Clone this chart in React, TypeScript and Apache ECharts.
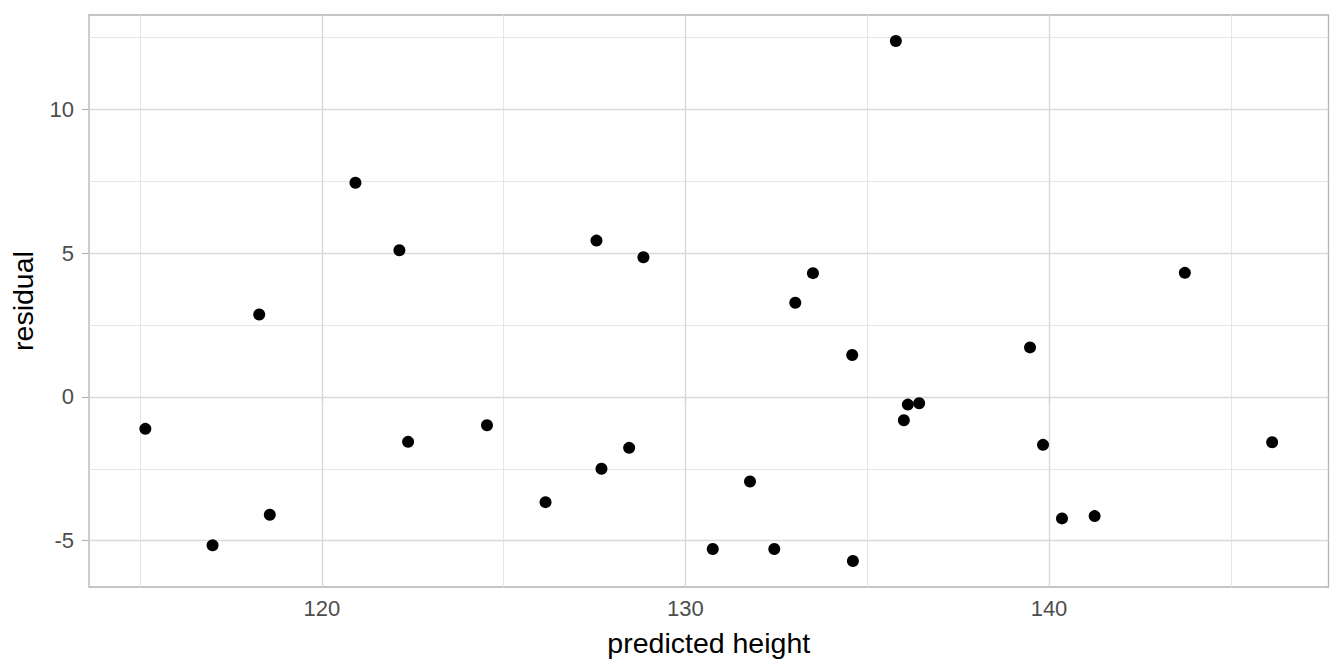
import React, { useEffect, useRef } from "react";
import * as echarts from "echarts";

const predicted: number[] = [
  115.148, 116.997, 118.28, 118.571, 120.926, 122.135, 122.374, 124.544,
  126.154, 127.555, 127.692, 128.453, 128.846, 130.753, 131.777, 132.445,
  133.022, 133.508, 134.588, 134.607, 135.788, 136.008, 136.118, 136.429,
  139.478, 139.835, 140.357, 141.255, 143.736, 146.137,
];
const residual: number[] = [
  -1.111, -5.163, 2.868, -4.097, 7.451, 5.104, -1.5625, -0.986,
  -3.66, 5.4375, -2.5, -1.771, 4.861, -5.292, -2.941, -5.292,
  3.274, 4.306, 1.458, -5.708, 12.382, -0.8125, -0.267, -0.222,
  1.722, -1.667, -4.226, -4.146, 4.316, -1.576,
];

const xTicks: number[] = [120, 130, 140];
const xMinor: number[] = [115, 125, 135, 145];
const yTicks: number[] = [-5, 0, 5, 10];
const yMinor: number[] = [-2.5, 2.5, 7.5, 12.5];

const xTitle = "predicted height";
const yTitle = "residual";

export default function App() {
  const ref = useRef<HTMLDivElement>(null);
  useEffect(() => {
    if (!ref.current) return;
    const chart = echarts.init(ref.current, null, { renderer: "svg" });
    const xMin = Math.min(...predicted);
    const xMax = Math.max(...predicted);
    const yMin = Math.min(...residual);
    const yMax = Math.max(...residual);
    const xPad = (xMax - xMin) * 0.05;
    const yPad = (yMax - yMin) * 0.05;
    const font = "'Liberation Sans', Arial, Helvetica, sans-serif";
    const major = { color: "#d9d9d9", width: 1.4, type: "solid" };
    const minor = { color: "#e3e3e3", width: 0.9, type: "solid" };
    const lines = [
      ...xMinor.map((v) => ({ xAxis: v, lineStyle: minor })),
      ...yMinor.map((v) => ({ yAxis: v, lineStyle: minor })),
      ...xTicks.map((v) => ({ xAxis: v, lineStyle: major })),
      ...yTicks.map((v) => ({ yAxis: v, lineStyle: major })),
    ];
    chart.setOption({
      animation: false,
      backgroundColor: "#ffffff",
      textStyle: { fontFamily: font },
      grid: {
        left: 89,
        right: 15.5,
        top: 15,
        bottom: 85,
        show: true,
        borderColor: "#b3b3b3",
        borderWidth: 1.3,
        backgroundColor: "#ffffff",
      },
      xAxis: {
        type: "value",
        min: xMin - xPad,
        max: xMax + xPad,
        axisLine: { show: false },
        axisTick: {
          show: true,
          length: 7,
          customValues: xTicks,
          lineStyle: { color: "#b3b3b3", width: 1.2 },
        },
        axisLabel: {
          customValues: xTicks,
          fontSize: 22,
          color: "#4d4d4d",
          margin: 10,
          fontFamily: font,
        },
        splitLine: { show: false },
        name: xTitle,
        nameLocation: "middle",
        nameGap: 41,
        nameTextStyle: { fontSize: 28.5, color: "#000000", fontFamily: font },
      },
      yAxis: {
        type: "value",
        min: yMin - yPad,
        max: yMax + yPad,
        axisLine: { show: false },
        axisTick: {
          show: true,
          length: 7,
          customValues: yTicks,
          lineStyle: { color: "#b3b3b3", width: 1.2 },
        },
        axisLabel: {
          customValues: yTicks,
          fontSize: 22,
          color: "#4d4d4d",
          margin: 15,
          fontFamily: font,
        },
        splitLine: { show: false },
        name: yTitle,
        nameLocation: "middle",
        nameGap: 52,
        nameRotate: 90,
        nameTextStyle: { fontSize: 28.5, color: "#000000", fontFamily: font },
      },
      series: [
        {
          type: "line",
          data: [],
          silent: true,
          z: 1,
          markLine: {
            silent: true,
            symbol: ["none", "none"],
            label: { show: false },
            animation: false,
            data: lines,
          },
        },
        {
          type: "scatter",
          z: 10,
          symbol: "circle",
          symbolSize: 12,
          itemStyle: { color: "#000000", opacity: 1 },
          data: predicted.map((x, i) => [x, residual[i]]),
        },
      ],
    });
    return () => chart.dispose();
  }, []);
  return (
    <div
      ref={ref}
      style={{ position: "fixed", left: 0, top: 0, width: 1344, height: 672 }}
    />
  );
}
